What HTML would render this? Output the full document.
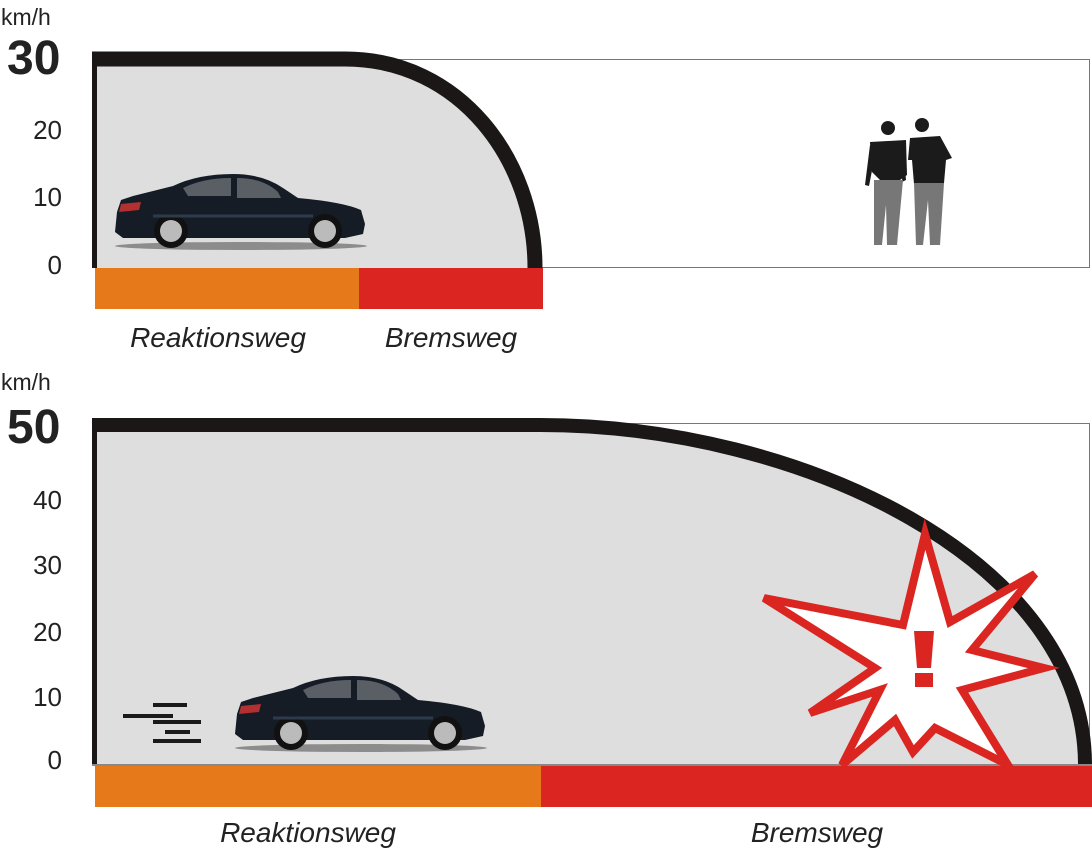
<!DOCTYPE html>
<html><head><meta charset="utf-8"><style>
html,body{margin:0;padding:0;background:#fff}
svg{display:block}
text{font-family:"Liberation Sans",sans-serif}
</style></head><body>
<svg width="1092" height="850" viewBox="0 0 1092 850" xmlns="http://www.w3.org/2000/svg">
<defs>
<g id="car">
<ellipse cx="128" cy="74" rx="126" ry="4" fill="#555" opacity="0.6"/>
<path d="M4,40 L8,28 L20,24 L60,14 Q85,2 120,2 Q150,2 170,16 L185,26 Q230,30 248,38 L252,52 L250,62 L232,66 L10,66 L2,60 Z" fill="#151c26"/>
<path d="M70,16 Q90,6 118,6 L118,24 L75,24 Z" fill="#5a5f66"/>
<path d="M124,6 Q150,6 165,20 L168,26 L124,26 Z" fill="#5a5f66"/>
<path d="M8,32 L28,30 L26,38 L6,40 Z" fill="#b23030"/>
<circle cx="58" cy="59" r="17" fill="#111"/><circle cx="58" cy="59" r="11" fill="#bbb"/>
<circle cx="212" cy="59" r="17" fill="#111"/><circle cx="212" cy="59" r="11" fill="#bbb"/>
<path d="M40,44 L200,44" stroke="#2d3a4c" stroke-width="3"/>
</g>
</defs>

<!-- TOP CHART -->
<rect x="92.5" y="59.5" width="997" height="208" fill="#fff" stroke="#777" stroke-width="1"/>
<path d="M92,59 H345 C460,59 535,160 535,268 H92 Z" fill="#dedede"/>
<path d="M92,59 H345 C460,59 535,160 535,268" fill="none" stroke="#1a1716" stroke-width="15"/>
<rect x="92" y="52" width="5" height="216" fill="#1a1716"/>
<rect x="95" y="268" width="264" height="41" fill="#e67a1a"/>
<rect x="359" y="268" width="184" height="41" fill="#da2520"/>
<use href="#car" x="113" y="172"/>
<!-- people -->
<g fill="#1b1b1b">
<circle cx="888" cy="128" r="7"/>
<path d="M870,142 L906,140 L907,175 L900,180 L880,180 L872,172 Z"/>
<path d="M870,145 L865,185 L869,186 L876,150 Z"/>
<path d="M903,145 L906,180 L902,182 Z"/>
<circle cx="922" cy="125" r="7"/>
<path d="M910,138 L940,136 L952,158 L946,160 L944,183 L914,184 L912,160 L908,160 Z"/>
</g>
<g fill="#777">
<path d="M874,180 L903,180 L897,245 L887,245 L886,205 L882,245 L874,245 Z"/>
<path d="M914,183 L944,183 L940,245 L930,245 L928,200 L923,245 L916,245 Z"/>
</g>
<text x="1" y="25" font-size="23" fill="#222">km/h</text>
<text x="7" y="74" font-size="48" font-weight="bold" fill="#222">30</text>
<text x="62" y="139" font-size="26" fill="#222" text-anchor="end">20</text>
<text x="62" y="206" font-size="26" fill="#222" text-anchor="end">10</text>
<text x="62" y="274" font-size="26" fill="#222" text-anchor="end">0</text>
<text x="218" y="347" font-size="28" font-style="italic" fill="#222" text-anchor="middle">Reaktionsweg</text>
<text x="451" y="347" font-size="28" font-style="italic" fill="#222" text-anchor="middle">Bremsweg</text>

<!-- BOTTOM CHART -->
<rect x="92.5" y="423.5" width="997" height="342" fill="#fff" stroke="#777" stroke-width="1"/>
<path d="M92,425 H540 C800,425 1085,560 1085,765 H92 Z" fill="#dedede"/>
<path d="M92,425 H540 C800,425 1085,560 1085,765" fill="none" stroke="#1a1716" stroke-width="14"/>
<rect x="92" y="418" width="5" height="347" fill="#1a1716"/>
<rect x="92" y="764" width="1000" height="2" fill="#888"/>
<rect x="95" y="766" width="446" height="41" fill="#e67a1a"/>
<rect x="541" y="766" width="551" height="41" fill="#da2520"/>
<g fill="#1a1a1a">
<rect x="153" y="703" width="34" height="4"/>
<rect x="123" y="714" width="50" height="4"/>
<rect x="153" y="720" width="48" height="4"/>
<rect x="165" y="730" width="25" height="4"/>
<rect x="153" y="739" width="48" height="4"/>
</g>
<use href="#car" x="233" y="674"/>
<polygon points="925,534 950,622 1035,574 972,650 1044,668 962,690 1008,765 935,728 913,752 895,720 842,765 880,690 810,713 875,668 764,598 903,625" fill="#fff" stroke="#da2520" stroke-width="8" stroke-linejoin="miter"/>
<polygon points="914,631 934,631 931,668 917,668" fill="#da2520"/>
<rect x="915" y="673" width="18" height="14" fill="#da2520"/>
<text x="1" y="390" font-size="23" fill="#222">km/h</text>
<text x="7" y="443" font-size="48" font-weight="bold" fill="#222">50</text>
<text x="62" y="509" font-size="26" fill="#222" text-anchor="end">40</text>
<text x="62" y="574" font-size="26" fill="#222" text-anchor="end">30</text>
<text x="62" y="641" font-size="26" fill="#222" text-anchor="end">20</text>
<text x="62" y="706" font-size="26" fill="#222" text-anchor="end">10</text>
<text x="62" y="769" font-size="26" fill="#222" text-anchor="end">0</text>
<text x="308" y="842" font-size="28" font-style="italic" fill="#222" text-anchor="middle">Reaktionsweg</text>
<text x="817" y="842" font-size="28" font-style="italic" fill="#222" text-anchor="middle">Bremsweg</text>
</svg>
</body></html>
